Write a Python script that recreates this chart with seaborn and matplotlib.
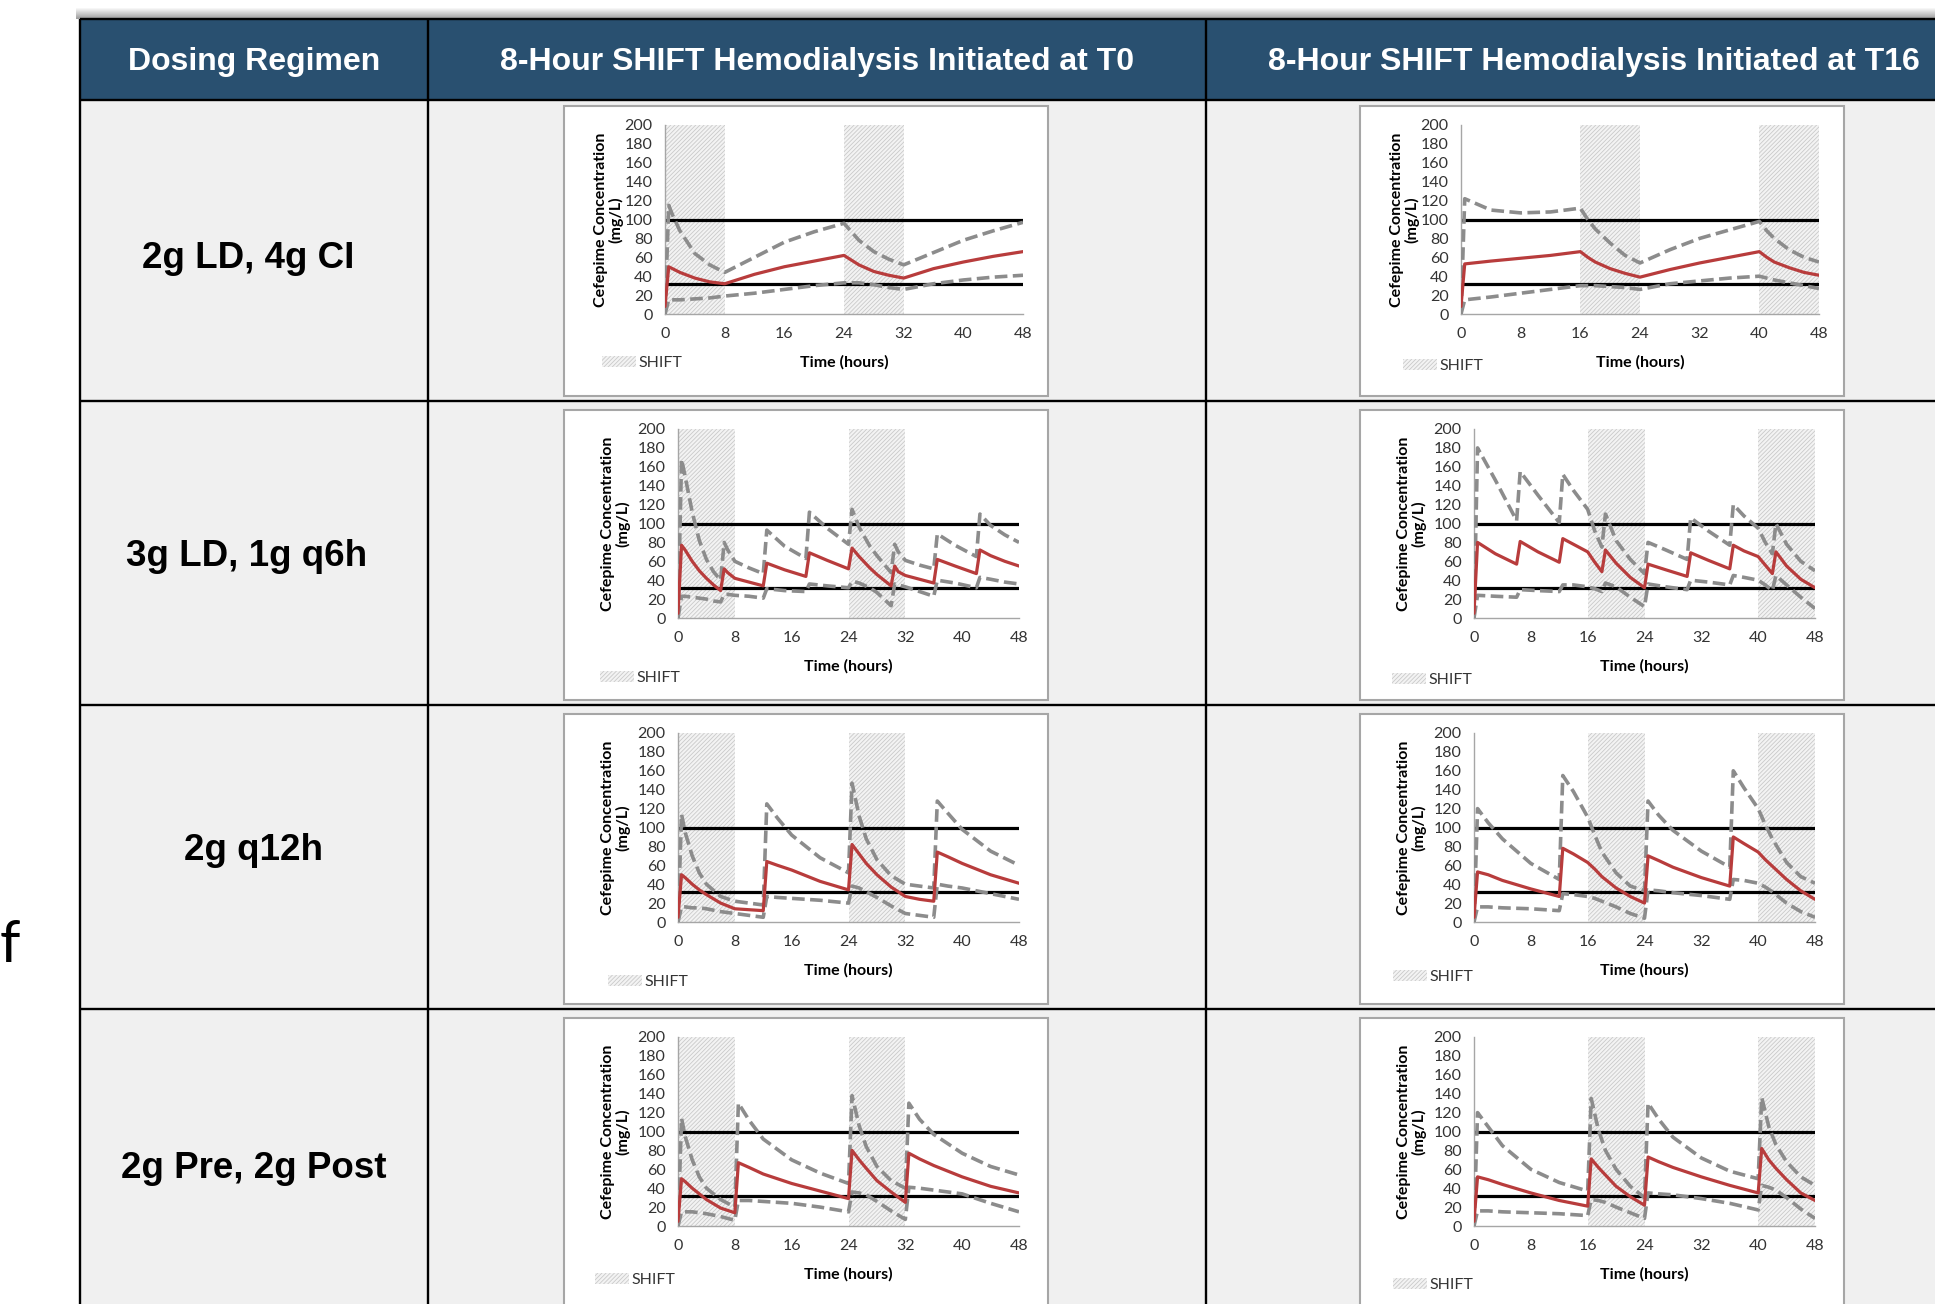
import matplotlib
matplotlib.use("Agg")
import matplotlib.pyplot as plt
from matplotlib.patches import Rectangle, Patch
import numpy as np
import seaborn as sns

# ---------------------------------------------------------------- data
headers = ["Dosing Regimen",
           "8-Hour SHIFT Hemodialysis Initiated at T0",
           "8-Hour SHIFT Hemodialysis Initiated at T16"]
regimens = ["2g LD, 4g CI", "3g LD, 1g q6h", "2g q12h", "2g Pre, 2g Post"]

shift_t0 = [(0, 8), (24, 32)]
shift_t16 = [(16, 24), (40, 48)]
mic_lines = [100, 32]
y_ticks = list(range(0, 201, 20))
x_ticks = list(range(0, 49, 8))

# 2g LD, 4g CI
ci_t0_time = [0, 0.5, 1, 2, 4, 6, 8, 12, 16, 20, 24, 26, 28, 30, 32, 36, 40, 44, 48]
ci_t0_med = [8, 50, 48, 44, 38, 34, 32, 42, 50, 56, 62, 52, 45, 41, 38, 48, 55, 61, 66]
ci_t0_hi = [0, 115, 105, 88, 64, 52, 44, 60, 76, 87, 96, 78, 66, 58, 52, 65, 78, 88, 97]
ci_t0_lo = [0, 15, 15, 15, 16, 17, 19, 22, 26, 30, 33, 33, 31, 28, 26, 32, 36, 39, 41]

ci_t16_time = [0, 0.5, 4, 8, 12, 16, 17, 18, 20, 22, 24, 28, 32, 36, 40, 41, 42, 44, 46, 48]
ci_t16_med = [8, 53, 56, 59, 62, 66, 60, 55, 48, 43, 39, 47, 54, 60, 66, 60, 55, 49, 44, 41]
ci_t16_hi = [0, 122, 110, 107, 108, 112, 100, 90, 75, 62, 54, 68, 80, 89, 98, 88, 80, 68, 60, 55]
ci_t16_lo = [0, 15, 18, 22, 26, 30, 30, 30, 29, 28, 26, 32, 35, 38, 40, 38, 36, 33, 30, 27]

# 3g LD, 1g q6h
q6_t0_time = [0, 0.5, 1, 2, 3, 4, 5, 6, 6.5, 7, 8, 10, 12, 12.5, 15, 18, 18.5, 21, 24,
              24.5, 25.5, 27, 28, 30, 30.5, 31, 32, 34, 36, 36.5, 39, 42, 42.5, 44, 46, 48]
q6_t0_med = [5, 77, 72, 60, 50, 42, 35, 29, 52, 48, 42, 38, 34, 58, 51, 44, 69, 61, 52,
             74, 65, 53, 46, 34, 55, 49, 45, 41, 37, 62, 55, 47, 72, 66, 60, 55]
q6_t0_hi = [0, 168, 150, 112, 82, 62, 49, 40, 80, 72, 60, 53, 47, 93, 76, 63, 112, 95, 78,
            115, 96, 76, 66, 48, 78, 70, 61, 56, 52, 89, 77, 65, 110, 98, 88, 80]
q6_t0_lo = [0, 23, 23, 22, 21, 20, 18, 17, 25, 25, 24, 23, 21, 31, 29, 28, 36, 34, 32,
            39, 37, 32, 27, 13, 36, 35, 33, 28, 23, 40, 37, 32, 43, 41, 38, 36]

q6_t16_time = [0, 0.5, 3, 6, 6.5, 9, 12, 12.5, 14, 16, 17, 18, 18.5, 20, 22, 24, 24.5, 27,
               30, 30.5, 33, 36, 36.5, 38, 40, 41, 42, 42.5, 44, 46, 48]
q6_t16_med = [5, 80, 68, 57, 81, 70, 59, 84, 78, 70, 59, 49, 72, 58, 43, 32, 57, 51,
              44, 69, 61, 52, 77, 71, 65, 56, 47, 70, 55, 41, 32]
q6_t16_hi = [0, 180, 146, 103, 155, 130, 101, 152, 135, 115, 92, 75, 110, 82, 62, 47, 80, 72,
             62, 106, 92, 77, 120, 108, 95, 80, 68, 100, 78, 60, 50]
q6_t16_lo = [0, 24, 23, 22, 30, 29, 28, 35, 35, 33, 31, 28, 37, 33, 22, 12, 36, 33,
             30, 40, 38, 35, 45, 43, 40, 35, 29, 45, 35, 22, 10]

# 2g q12h
q12_t0_time = [0, 0.5, 1, 2, 3, 4, 6, 8, 10, 12, 12.5, 14, 16, 20, 24, 24.5, 25.5, 26.5,
               28, 30, 32, 34, 36, 36.5, 38, 40, 44, 48]
q12_t0_med = [5, 50, 47, 40, 34, 29, 20, 14, 13, 12, 64, 60, 55, 43, 34, 82, 72, 62,
              50, 37, 27, 24, 22, 74, 69, 62, 50, 41]
q12_t0_hi = [0, 114, 95, 70, 52, 40, 27, 22, 20, 18, 125, 110, 92, 68, 52, 147, 112, 88,
             66, 49, 40, 38, 36, 128, 115, 98, 75, 60]
q12_t0_lo = [0, 16, 16, 15, 15, 14, 11, 9, 7, 5, 27, 26, 25, 23, 20, 38, 36, 32,
             26, 17, 9, 7, 5, 40, 38, 36, 30, 24]

q12_t16_time = [0, 0.5, 2, 4, 8, 12, 12.5, 14, 16, 17, 18, 20, 22, 24, 24.5, 26, 28, 32,
                36, 36.5, 38, 40, 41, 42, 44, 46, 48]
q12_t16_med = [5, 53, 50, 44, 35, 27, 78, 72, 63, 56, 48, 36, 27, 20, 70, 65, 58, 47,
               38, 90, 83, 74, 66, 59, 45, 33, 24]
q12_t16_hi = [0, 120, 105, 88, 62, 45, 155, 138, 111, 92, 74, 52, 38, 33, 128, 113, 97, 75,
              58, 160, 142, 120, 103, 88, 63, 48, 41]
q12_t16_lo = [0, 16, 16, 15, 14, 12, 30, 29, 27, 25, 22, 16, 9, 4, 34, 33, 31, 28,
              24, 45, 44, 41, 37, 32, 20, 11, 5]

# 2g Pre, 2g Post
pp_t0_time = [0, 0.5, 1, 2, 3, 4, 6, 8, 8.5, 10, 12, 16, 20, 24, 24.5, 25.5, 26.5, 28,
              30, 32, 32.5, 34, 36, 40, 44, 48]
pp_t0_med = [5, 50, 47, 40, 34, 28, 19, 14, 67, 62, 55, 45, 37, 29, 80, 70, 61, 48,
             36, 25, 77, 71, 64, 52, 42, 35]
pp_t0_hi = [0, 114, 95, 70, 52, 40, 28, 20, 130, 112, 92, 70, 56, 45, 138, 106, 84, 63,
            48, 40, 130, 113, 97, 77, 63, 54]
pp_t0_lo = [0, 15, 15, 15, 14, 13, 10, 6, 27, 27, 26, 24, 20, 15, 36, 35, 33, 26,
            16, 7, 41, 40, 38, 34, 24, 15]

pp_t16_time = [0, 0.5, 2, 4, 8, 12, 16, 16.5, 17.5, 18.5, 20, 22, 24, 24.5, 26, 28, 32,
               36, 40, 40.5, 41.5, 42.5, 44, 46, 48]
pp_t16_med = [5, 52, 49, 44, 35, 27, 21, 71, 62, 54, 42, 31, 22, 73, 68, 62, 52,
              43, 35, 82, 70, 61, 49, 35, 27]
pp_t16_hi = [0, 120, 105, 85, 60, 46, 37, 135, 102, 80, 60, 42, 30, 130, 113, 94, 72,
             58, 50, 136, 105, 86, 68, 52, 43]
pp_t16_lo = [0, 16, 16, 15, 14, 13, 11, 28, 27, 25, 20, 14, 8, 35, 34, 33, 29,
             24, 17, 43, 41, 38, 30, 18, 8]

panels = [
    (0, 0, ci_t0_time, ci_t0_med, ci_t0_hi, ci_t0_lo, shift_t0),
    (0, 1, ci_t16_time, ci_t16_med, ci_t16_hi, ci_t16_lo, shift_t16),
    (1, 0, q6_t0_time, q6_t0_med, q6_t0_hi, q6_t0_lo, shift_t0),
    (1, 1, q6_t16_time, q6_t16_med, q6_t16_hi, q6_t16_lo, shift_t16),
    (2, 0, q12_t0_time, q12_t0_med, q12_t0_hi, q12_t0_lo, shift_t0),
    (2, 1, q12_t16_time, q12_t16_med, q12_t16_hi, q12_t16_lo, shift_t16),
    (3, 0, pp_t0_time, pp_t0_med, pp_t0_hi, pp_t0_lo, shift_t0),
    (3, 1, pp_t16_time, pp_t16_med, pp_t16_hi, pp_t16_lo, shift_t16),
]

# ---------------------------------------------------------------- layout (pixels)
W, H = 1935, 1304
col_x = [80, 428, 1206, 1990]
row_y = [19, 100, 401, 705, 1009, 1310]
header_cx = [254, 817, 1594]
label_pos = [(248, 259), (247, 557), (253, 850), (254, 1168)]
box_x = [564, 1360]
box_y = [106, 410, 714, 1018]
box_w, box_h = 484, 290
plot_lr = [(101, 459), (114, 455), (114, 455), (114, 455)]
plot_top, plot_h = 19, 189
ylab_x = [59, 66, 66, 66]
legend_pos = {(0, 0): (38, 257), (0, 1): (43, 260), (1, 0): (36, 268), (1, 1): (32, 270),
              (2, 0): (44, 268), (2, 1): (33, 263), (3, 0): (31, 262), (3, 1): (33, 267)}

RED = "#B83C3C"
GREY = "#8C8C8C"
HEADER = "#295070"
CELL = "#F0F0F0"
TXT = "#333333"

sns.set_style("white")
plt.rcParams["font.family"] = ["Lato", "DejaVu Sans"]
plt.rcParams["hatch.linewidth"] = 0.6


def frac(x, y, w, h):
    return [x / W, 1 - (y + h) / H, w / W, h / H]


fig = plt.figure(figsize=(W / 100, H / 100), dpi=100)
bg = fig.add_axes([0, 0, 1, 1])
bg.set_xlim(0, W)
bg.set_ylim(H, 0)
bg.axis("off")

# header shadow
grad = np.linspace(1.0, 0.62, 12)[:, None, None] * np.ones((12, 2, 3))
bg.imshow(grad, extent=(76, W, row_y[0], row_y[0] - 12), aspect="auto", zorder=0)

# table cells
bg.add_patch(Rectangle((col_x[0], row_y[0]), W, row_y[1] - row_y[0], facecolor=HEADER, lw=0))
bg.add_patch(Rectangle((col_x[0], row_y[1]), W, H, facecolor=CELL, lw=0))
for x in col_x[:3]:
    bg.plot([x, x], [row_y[0], H], color="black", lw=1.7, solid_capstyle="butt")
for y in row_y[:5]:
    bg.plot([col_x[0], W], [y, y], color="black", lw=1.7, solid_capstyle="butt")

for cx, txt in zip(header_cx, headers):
    bg.text(cx, 62, txt, color="white", fontsize=23, fontweight="bold",
            family="Liberation Sans", ha="center", va="center")
for (lx, ly), txt in zip(label_pos, regimens):
    bg.text(lx, ly, txt, color="black", fontsize=26.5, fontweight="bold",
            family="Liberation Sans", ha="center", va="center")

bg.text(0, 962, "f", fontsize=42, color="black", ha="left", va="baseline")

# ---------------------------------------------------------------- charts
for row, col, t, med, hi, lo, shifts in panels:
    bx, by = box_x[col], box_y[row]
    bg.add_patch(Rectangle((bx, by), box_w, box_h, facecolor="white",
                           edgecolor="#A6A6A6", lw=1.5))
    pl, pr = plot_lr[row]
    ax = fig.add_axes(frac(bx + pl, by + plot_top, pr - pl, plot_h))
    ax.set_facecolor("none")

    for a, b in shifts:
        ax.axvspan(a, b, facecolor="#F3F3F3", edgecolor="#CACACA", hatch="////////",
                   lw=0, zorder=0)
    for m in mic_lines:
        ax.axhline(m, color="black", lw=2.3, zorder=2)

    sns.lineplot(x=t, y=hi, ax=ax, color=GREY, lw=2.6, linestyle=(0, (3.5, 1.5)),
                 zorder=3, legend=False)
    sns.lineplot(x=t, y=lo, ax=ax, color=GREY, lw=2.6, linestyle=(0, (3.5, 1.5)),
                 zorder=3, legend=False)
    sns.lineplot(x=t, y=med, ax=ax, color=RED, lw=2.3, zorder=4, legend=False)

    ax.set_xlim(0, 48)
    ax.set_ylim(0, 200)
    ax.set_xticks(x_ticks)
    ax.set_yticks(y_ticks)
    ax.tick_params(axis="both", labelsize=11.5, labelcolor=TXT, color="#A6A6A6",
                   length=4, width=1, direction="out")
    ax.tick_params(axis="x", pad=5)
    ax.tick_params(axis="y", pad=5)
    for s in ["top", "right"]:
        ax.spines[s].set_visible(False)
    for s in ["left", "bottom"]:
        ax.spines[s].set_color("#A6A6A6")
        ax.spines[s].set_linewidth(1)

    ax.set_xlabel("Time (hours)", fontsize=11.5, fontweight="bold", color="black")
    ax.xaxis.set_label_coords(0.5, -41 / plot_h)
    ax.set_ylabel("Cefepime Concentration\n(mg/L)", fontsize=11.5, fontweight="bold",
                  color="black", linespacing=1.0)
    ax.yaxis.set_label_coords((ylab_x[row] - pl) / (pr - pl), 0.5)

    lx, ly = legend_pos[(row, col)]
    handle = Patch(facecolor="#F3F3F3", edgecolor="#CACACA", hatch="////////", lw=0,
                   label="SHIFT")
    leg = ax.legend(handles=[handle], loc="center left",
                    bbox_to_anchor=((lx - pl) / (pr - pl), (plot_top + plot_h - ly) / plot_h),
                    frameon=False, fontsize=11.5, handlelength=2.1, handleheight=0.7,
                    handletextpad=0.2, borderpad=0, borderaxespad=0)
    for txt in leg.get_texts():
        txt.set_color(TXT)

fig.savefig("out.png", dpi=100)
